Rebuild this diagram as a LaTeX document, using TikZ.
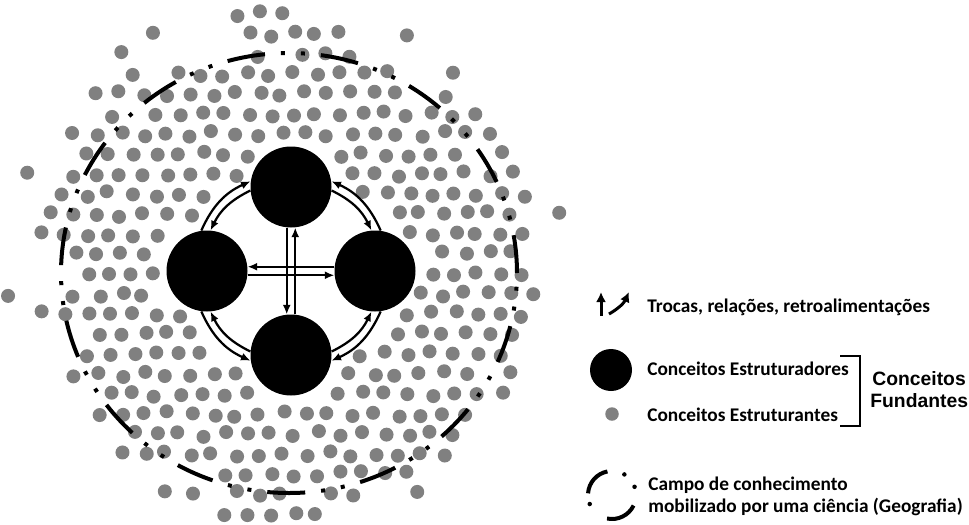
\documentclass[tikz,border=0pt]{standalone}
\usepackage{fontspec}
\setmainfont{Carlito}
\newfontfamily\arialfont{Liberation Sans}
\usetikzlibrary{arrows.meta}

\tikzset{
  bigconcept/.style={circle,fill=black,inner sep=0pt,minimum size=16.2mm},
  smallconcept/.style={fill=black!50},
  relation/.style={line width=0.45mm,-{Latex[length=1.9mm,width=1.6mm]}},
  legarrow/.style={line width=0.6mm,-{Latex[length=2mm,width=2mm]}},
  fieldline/.style={line width=0.8mm,dash pattern=on 7.6mm off 3.2mm on 0.8mm off 3.2mm on 0.8mm off 3.2mm},
  legendtext/.style={anchor=base west,inner sep=0pt,font=\fontsize{11}{13}\selectfont\bfseries},
  fundtext/.style={anchor=base west,inner sep=0pt,font=\arialfont\fontsize{11}{13}\selectfont\bfseries},
}

\begin{document}
\begin{tikzpicture}[x=0.2mm,y=-0.2mm]
\useasboundingbox (0,0) rectangle (969,524);

%%% CLOUD OF STRUCTURING CONCEPTS
\pgfmathsetseed{42}
\foreach \row in {0,...,25}{
  \foreach \col in {0,...,25}{
    \pgfmathsetmacro{\dotx}{6+23*\col+11.5*mod(\row,2)+3*rand}
    \pgfmathsetmacro{\doty}{14+20*\row+3*rand}
    \pgfmathsetmacro{\dotr}{veclen(\dotx-287,\doty-271)}
    \pgfmathsetmacro{\dotp}{(\dotr<218) ? 1 : (0.85-(\dotr-218)/80)}
    \pgfmathtruncatemacro{\keepit}{(rnd<\dotp) && (\dotr>106) && (veclen(\dotx-291,\doty-187)>50) && (veclen(\dotx-207,\doty-271)>50) && (veclen(\dotx-375,\doty-271)>50) && (veclen(\dotx-291,\doty-355)>50)}
    \ifnum\keepit=1 \fill[smallconcept] (\dotx,\doty) circle[radius=1.4mm]; \fi
  }
}

%%% FIELD OF KNOWLEDGE
\draw[fieldline] (289,273) ellipse [x radius=45.6mm, y radius=44mm];

%%% STRUCTURING CONCEPTS
\node[bigconcept] (ctop) at (291,187) {};
\node[bigconcept] (cleft) at (207,271) {};
\node[bigconcept] (cright) at (375,271) {};
\node[bigconcept] (cbottom) at (291,355) {};

%%% EXCHANGES
\draw[relation] (cright.174) -- (cleft.6);
\draw[relation] (cleft.354) -- (cright.186);
\draw[relation] (ctop.264) -- (cbottom.96);
\draw[relation] (cbottom.84) -- (ctop.276);
\draw[relation] (cleft.98) to[bend left=21] (ctop.172);
\draw[relation] (ctop.185) to[bend right=19] (cleft.85);
\draw[relation] (cright.82) to[bend right=21] (ctop.8);
\draw[relation] (ctop.355) to[bend left=19] (cright.95);
\draw[relation] (cright.278) to[bend left=21] (cbottom.352);
\draw[relation] (cbottom.5) to[bend right=19] (cright.265);
\draw[relation] (cleft.262) to[bend right=21] (cbottom.188);
\draw[relation] (cbottom.175) to[bend left=19] (cleft.275);

%%% LEGEND
\coordinate (upfrom) at (601,316);
\coordinate (upto) at (601,292);
\draw[legarrow] (upfrom) -- (upto);
\coordinate (curvefrom) at (609,314);
\coordinate (curveto) at (629,292);
\draw[legarrow] (curvefrom) to[bend right=18] (curveto);
\node[legendtext] (trocas) at (647,312) {Trocas, relações, retroalimentações};

\node[bigconcept,minimum size=8.4mm] (legbig) at (611,370) {};
\node[circle,smallconcept,inner sep=0pt,minimum size=2.7mm] (legdot) at (612,414) {};
\node[legendtext] (estruturadores) at (647,375) {Conceitos Estruturadores};
\node[legendtext] (estruturantes) at (647,421) {Conceitos Estruturantes};
\coordinate (brtop) at (840,356);
\coordinate (brbot) at (840,426);
\draw[line width=0.3mm] (brtop) -- ++(20,0) |- (brbot);
\node[fundtext] (fundone) at (872,385) {Conceitos};
\node[fundtext] (fundtwo) at (870,407) {Fundantes};

\coordinate (fieldicon) at (612,495);
\draw[line width=0.8mm] ([shift={(101:4.8mm)}]fieldicon) arc[start angle=101,end angle=176,radius=4.8mm];
\draw[line width=0.8mm] ([shift={(258:4.8mm)}]fieldicon) arc[start angle=258,end angle=334,radius=4.8mm];
\foreach \a in {20,59,202} \fill ([shift={(\a:4.8mm)}]fieldicon) circle[radius=0.45mm];
\node[legendtext] (campoone) at (648,490) {Campo de conhecimento};
\node[legendtext] (campotwo) at (648,512) {mobilizado por uma ciência (Geografia)};
\end{tikzpicture}
\end{document}
